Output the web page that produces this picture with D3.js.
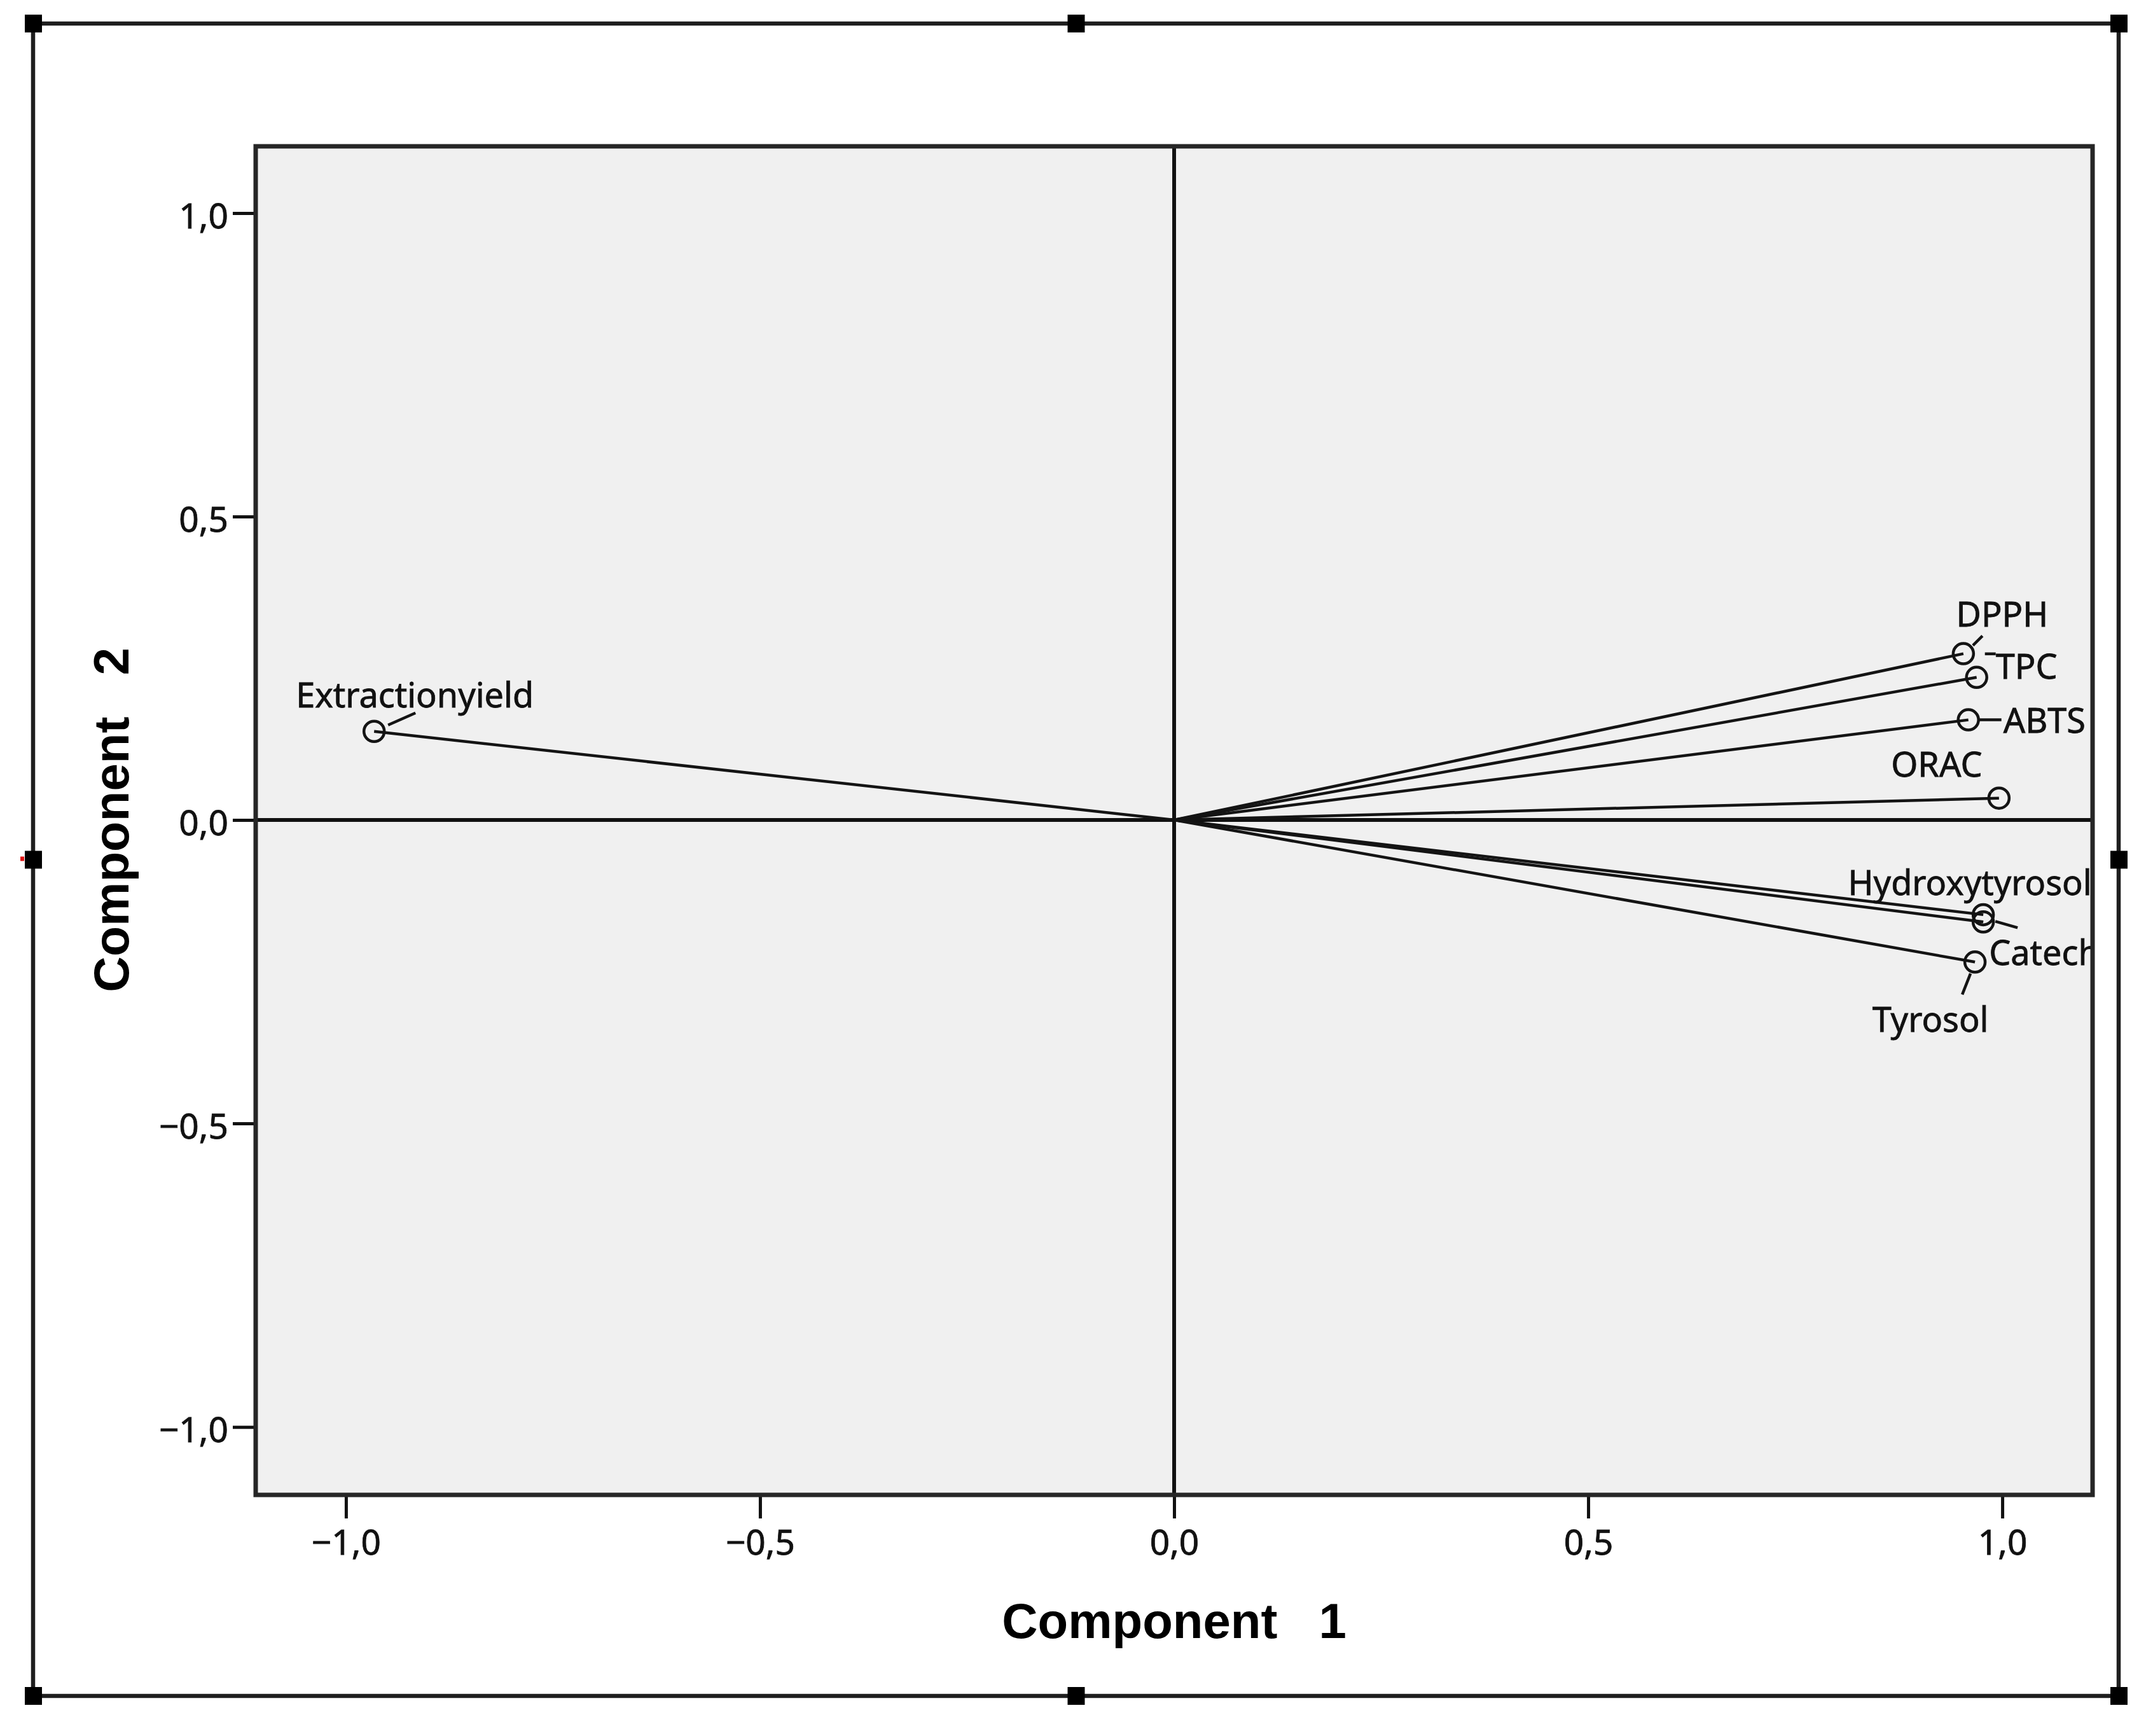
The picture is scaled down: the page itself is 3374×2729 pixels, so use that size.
<!DOCTYPE html>
<html>
<head>
<meta charset="utf-8">
<script src="https://cdn.jsdelivr.net/npm/d3@7.9.0/dist/d3.min.js"></script>
<style>
  html, body { margin: 0; padding: 0; background: #fff; }
  svg { display: block; }
</style>
</head>
<body>
<svg id="chart" width="3374" height="2729"></svg>
<script>
// component loadings
const variables = ['Extractionyield', 'DPPH', 'TPC', 'ABTS', 'ORAC', 'Hydroxytyrosol', 'Catech', 'Tyrosol'];
const comp1 = [-0.966, 0.953, 0.969, 0.959, 0.996, 0.977, 0.977, 0.967];
const comp2 = [0.146, 0.274, 0.235, 0.165, 0.036, -0.156, -0.168, -0.234];
const tickValues = [-1, -0.5, 0, 0.5, 1];
const xTitle = 'Component   1';
const yTitle = 'Component   2';

// where each label sits relative to its point (px), plus leader segment
const labelLayout = {
  Extractionyield: { dx: 64, dy: -38, anchor: 'middle', leader: [22, -10, 65, -29] },
  DPPH: { dx: 61, dy: -43, anchor: 'middle', leader: [15, -13, 30, -28] },
  TPC: { dx: 30, dy: 2, anchor: 'start', leader: [13, -37, 30, -37] },
  ABTS: { dx: 55, dy: 20, anchor: 'start', leader: [17, 0, 52, 0] },
  ORAC: { dx: -98, dy: -34, anchor: 'middle', leader: null },
  Hydroxytyrosol: { dx: -21, dy: -31, anchor: 'middle', leader: null },
  Catech: { dx: 9, dy: 68, anchor: 'start', leader: [19, -1, 54, 9] },
  Tyrosol: { dx: -70, dy: 110, anchor: 'middle', leader: [-7, 18, -20, 51] }
};

const points = variables.map((name, i) => ({ name, c1: comp1[i], c2: comp2[i] }));

const plot = { left: 402, top: 230, right: 3290, bottom: 2350 };
const svg = d3.select('#chart');

let x = d3.scaleLinear().domain([-1.109, 1.109]).range([plot.left, plot.right]);
let y = d3.scaleLinear().domain([-1.112, 1.110]).range([plot.bottom, plot.top]);

const fmt = (v) => d3.format('.1f')(v).replace('.', ',');
const labelFont = '"Noto Sans", "Liberation Sans", Arial, sans-serif';

// outer frame with the selection handles
const frame = { left: 52, top: 37, right: 3331, bottom: 2666 };
svg.append('rect')
  .attr('x', frame.left).attr('y', frame.top)
  .attr('width', frame.right - frame.left).attr('height', frame.bottom - frame.top)
  .attr('fill', 'none').attr('stroke', '#1e1e1e').attr('stroke-width', 6.5);

const hx = [frame.left, (frame.left + frame.right) / 2, frame.right];
const hy = [frame.top, (frame.top + frame.bottom) / 2, frame.bottom];
hx.forEach((cx, i) => {
  hy.forEach((cy, j) => {
    if (i === 1 && j === 1) return;
    svg.append('rect')
      .attr('x', cx - 13).attr('y', cy - 14)
      .attr('width', 27).attr('height', 28)
      .attr('fill', '#000');
  });
});
svg.append('rect').attr('x', 32).attr('y', hy[1] - 5).attr('width', 6).attr('height', 7).attr('fill', '#e01010');

// plot background
svg.append('rect')
  .attr('x', plot.left).attr('y', plot.top)
  .attr('width', plot.right - plot.left).attr('height', plot.bottom - plot.top)
  .attr('fill', '#f0f0f0');

svg.append('clipPath').attr('id', 'plotClip')
  .append('rect')
  .attr('x', plot.left + 3).attr('y', plot.top + 3)
  .attr('width', plot.right - plot.left - 6).attr('height', plot.bottom - plot.top - 6);

// axes
const xAxis = svg.append('g')
  .attr('transform', `translate(0,${plot.bottom})`)
  .call(d3.axisBottom(x).tickValues(tickValues).tickFormat(fmt).tickSize(37).tickSizeOuter(0).tickPadding(14));
const yAxis = svg.append('g')
  .attr('transform', `translate(${plot.left},0)`)
  .call(d3.axisLeft(y).tickValues(tickValues).tickFormat(fmt).tickSize(36).tickSizeOuter(0).tickPadding(7));

[xAxis, yAxis].forEach((g) => {
  g.select('.domain').remove();
  g.selectAll('.tick line').attr('stroke', '#111').attr('stroke-width', 5);
  g.selectAll('.tick text')
    .attr('fill', '#111')
    .attr('stroke', '#111').attr('stroke-width', 0.8)
    .style('font-family', labelFont)
    .style('font-size', '55px');
});
yAxis.selectAll('.tick text').attr('dy', '0.42em');
xAxis.selectAll('.tick text').attr('dy', '0.78em');

const inner = svg.append('g').attr('clip-path', 'url(#plotClip)');

// zero reference lines
inner.append('line')
  .attr('x1', x(0)).attr('x2', x(0)).attr('y1', plot.top).attr('y2', plot.bottom)
  .attr('stroke', '#111').attr('stroke-width', 6);
inner.append('line')
  .attr('x1', plot.left).attr('x2', plot.right).attr('y1', y(0)).attr('y2', y(0))
  .attr('stroke', '#111').attr('stroke-width', 6);

// loading vectors
inner.selectAll('line.vec')
  .data(points)
  .join('line')
  .attr('class', 'vec')
  .attr('x1', x(0)).attr('y1', y(0))
  .attr('x2', (d) => x(d.c1)).attr('y2', (d) => y(d.c2))
  .attr('stroke', '#141414').attr('stroke-width', 4.5);

inner.selectAll('circle.pt')
  .data(points)
  .join('circle')
  .attr('class', 'pt')
  .attr('cx', (d) => x(d.c1)).attr('cy', (d) => y(d.c2))
  .attr('r', 16)
  .attr('fill', 'none').attr('stroke', '#141414').attr('stroke-width', 4.5);

// leaders and labels
inner.selectAll('line.leader')
  .data(points.filter((d) => labelLayout[d.name].leader))
  .join('line')
  .attr('class', 'leader')
  .attr('x1', (d) => x(d.c1) + labelLayout[d.name].leader[0])
  .attr('y1', (d) => y(d.c2) + labelLayout[d.name].leader[1])
  .attr('x2', (d) => x(d.c1) + labelLayout[d.name].leader[2])
  .attr('y2', (d) => y(d.c2) + labelLayout[d.name].leader[3])
  .attr('stroke', '#141414').attr('stroke-width', 4.5);

inner.selectAll('text.lbl')
  .data(points)
  .join('text')
  .attr('class', 'lbl')
  .attr('x', (d) => x(d.c1) + labelLayout[d.name].dx)
  .attr('y', (d) => y(d.c2) + labelLayout[d.name].dy)
  .attr('text-anchor', (d) => labelLayout[d.name].anchor)
  .attr('fill', '#111')
  .attr('stroke', '#111').attr('stroke-width', 0.8)
  .style('font-family', labelFont)
  .style('font-size', '54px')
  .text((d) => d.name);

// plot border on top
svg.append('rect')
  .attr('x', plot.left).attr('y', plot.top)
  .attr('width', plot.right - plot.left).attr('height', plot.bottom - plot.top)
  .attr('fill', 'none').attr('stroke', '#262626').attr('stroke-width', 7);

// axis titles
svg.append('text')
  .attr('x', x(0)).attr('y', 2575)
  .attr('text-anchor', 'middle')
  .style('white-space', 'pre')
  .style('font-family', '"Liberation Sans", Arial, sans-serif')
  .style('font-weight', 'bold')
  .style('font-size', '78px')
  .attr('fill', '#000')
  .text(xTitle);

svg.append('text')
  .attr('transform', `translate(202,${y(0)}) rotate(-90)`)
  .attr('text-anchor', 'middle')
  .style('white-space', 'pre')
  .style('font-family', '"Liberation Sans", Arial, sans-serif')
  .style('font-weight', 'bold')
  .style('font-size', '78px')
  .attr('fill', '#000')
  .text(yTitle);
</script>
</body>
</html>
